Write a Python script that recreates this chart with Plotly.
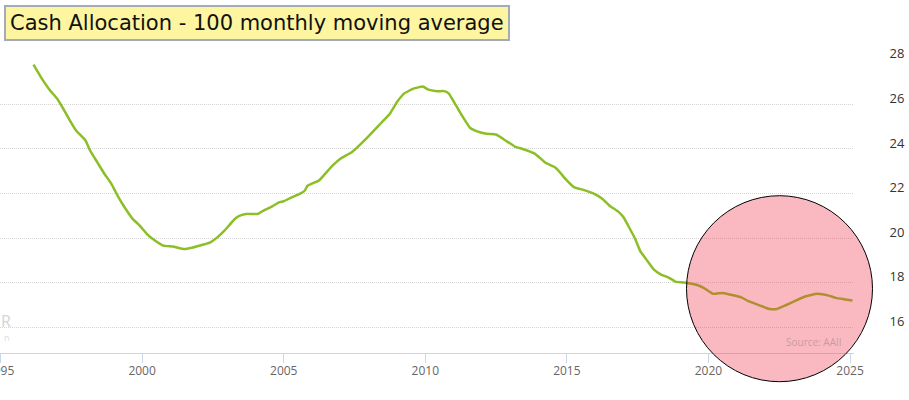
import plotly.graph_objects as go

# ---- data ----
dates = [
    "1996-03", "1996-07", "1996-10", "1997-01", "1997-04", "1997-06", "1997-09",
    "1998-01", "1998-03", "1998-06", "1998-09", "1998-12", "1999-03", "1999-06",
    "1999-09", "1999-12", "2000-03", "2000-06", "2000-10", "2001-02", "2001-07",
    "2001-11", "2002-03", "2002-06", "2002-09", "2002-12", "2003-04", "2003-06",
    "2003-09", "2004-02", "2004-04", "2004-08", "2004-11", "2005-01", "2005-04",
    "2005-08", "2005-10", "2005-11", "2006-04", "2006-09", "2007-01", "2007-06",
    "2007-12", "2008-06", "2008-10", "2009-01", "2009-04", "2009-08", "2009-12",
    "2010-02", "2010-06", "2010-09", "2010-11", "2011-02", "2011-05", "2011-08",
    "2011-11", "2012-03", "2012-07", "2012-11", "2013-03", "2013-06", "2013-11",
    "2014-02", "2014-04", "2014-08", "2014-10", "2015-01", "2015-04", "2015-08",
    "2015-12", "2016-04", "2016-07", "2016-11", "2017-01", "2017-03", "2017-06",
    "2017-08", "2017-11", "2018-02", "2018-05", "2018-08", "2018-11", "2019-04",
    "2019-08", "2019-11", "2020-03", "2020-07", "2020-11", "2021-03", "2021-06",
    "2021-11", "2022-03", "2022-06", "2022-10", "2023-02", "2023-06", "2023-11",
    "2024-04", "2024-07", "2024-11", "2025-02",
]
cash_ma100 = [
    27.78, 27.07, 26.62, 26.25, 25.73, 25.35, 24.83,
    24.38, 23.93, 23.41, 22.89, 22.44, 21.84, 21.32,
    20.87, 20.57, 20.20, 19.93, 19.67, 19.63, 19.52,
    19.60, 19.72, 19.82, 20.05, 20.35, 20.83, 20.99,
    21.09, 21.09, 21.21, 21.42, 21.61, 21.66, 21.81,
    22.00, 22.14, 22.35, 22.59, 23.18, 23.56, 23.86,
    24.46, 25.13, 25.58, 26.10, 26.48, 26.70, 26.80,
    26.67, 26.59, 26.59, 26.48, 25.95, 25.43, 24.95,
    24.79, 24.68, 24.65, 24.38, 24.11, 24.01, 23.81,
    23.56, 23.38, 23.18, 22.96, 22.59, 22.29, 22.17,
    22.02, 21.77, 21.47, 21.17, 20.94, 20.57, 19.97,
    19.45, 19.00, 18.58, 18.37, 18.25, 18.06, 18.00,
    17.92, 17.78, 17.51, 17.55, 17.46, 17.35, 17.18,
    16.98, 16.83, 16.83, 17.01, 17.21, 17.39, 17.51,
    17.43, 17.33, 17.26, 17.21,
]
y_ticks = [16, 18, 20, 22, 24, 26, 28]
title_text = "Cash Allocation - 100 monthly moving average"
source_text = "Source: AAII"

# ---- figure ----
W, H = 909, 400
ML, MR, MT, MB = 0, 55, 59, 47
PW, PH = W - ML - MR, H - MT - MB

def px_to_paper_x(px):
    return (px - ML) / PW

def px_to_paper_y(py):
    return (H - MB - py) / PH

fig = go.Figure()
fig.add_trace(go.Scatter(
    x=dates, y=cash_ma100, mode="lines",
    line=dict(color="#8cbf26", width=2.5, shape="spline", smoothing=0.4),
    showlegend=False, hoverinfo="skip",
))

# highlight circle (semi-transparent overlay)
cx, cy, r = 779.5, 288.7, 93
fig.add_shape(
    type="circle", xref="paper", yref="paper",
    x0=px_to_paper_x(cx - r), x1=px_to_paper_x(cx + r),
    y0=px_to_paper_y(cy + r), y1=px_to_paper_y(cy - r),
    fillcolor="rgba(240,55,75,0.35)", line=dict(color="black", width=1),
    layer="above",
)

# title box
fig.add_annotation(
    text=title_text, xref="paper", yref="paper",
    x=px_to_paper_x(4), y=px_to_paper_y(5), xanchor="left", yanchor="top",
    showarrow=False, bgcolor="#fdf5a0", bordercolor="#a3abb8", borderwidth=2,
    borderpad=4, font=dict(family="DejaVu Sans", size=21, color="#111111"),
)

# source credit
fig.add_annotation(
    text=source_text, xref="paper", yref="paper",
    x=px_to_paper_x(844), y=px_to_paper_y(342), xanchor="right", yanchor="middle",
    showarrow=False, font=dict(family="Open Sans", size=10, color="#c99aa2"),
)

# faint watermark fragments at the left edge
fig.add_annotation(
    text="R", xref="paper", yref="paper",
    x=px_to_paper_x(13), y=px_to_paper_y(321), xanchor="right", yanchor="middle",
    showarrow=False, font=dict(family="Open Sans", size=16, color="#d4d4d4"),
)
fig.add_annotation(
    text="n", xref="paper", yref="paper",
    x=px_to_paper_x(12), y=px_to_paper_y(337), xanchor="right", yanchor="middle",
    showarrow=False, font=dict(family="Open Sans", size=9, color="#dddddd"),
)

fig.update_layout(
    width=W, height=H,
    margin=dict(l=ML, r=MR, t=MT, b=MB),
    paper_bgcolor="white", plot_bgcolor="white",
    xaxis=dict(
        type="date", range=["1994-12-25", "2025-02-21"],
        tick0="2000-01-01", dtick="M60", tickformat="%Y",
        showgrid=False, zeroline=False,
        showline=True, linecolor="#ccd6eb", linewidth=1,
        ticks="outside", ticklen=9, tickcolor="#ccd6eb",
        ticklabelstandoff=-2,
        tickfont=dict(family="Open Sans", size=12, color="#666666"),
        ticklabeloverflow="allow",
        automargin=False,
    ),
    yaxis=dict(
        side="right", range=[14.86, 28.03],
        tickvals=y_ticks, ticktext=[str(v) for v in y_ticks],
        showgrid=True, gridcolor="#d4d4d4", griddash="1px,1px", gridwidth=1,
        zeroline=False, showline=False,
        ticks="outside", ticklen=32, tickcolor="rgba(0,0,0,0)",
        ticklabelshift=-6,
        tickfont=dict(family="Open Sans", size=13, color="#333333"),
        ticklabeloverflow="allow",
        automargin=False,
    ),
)

fig.write_html(
    "out.html",
    config={"displayModeBar": False},
    post_script="document.body.style.margin='0';document.body.style.overflow='hidden';",
)
